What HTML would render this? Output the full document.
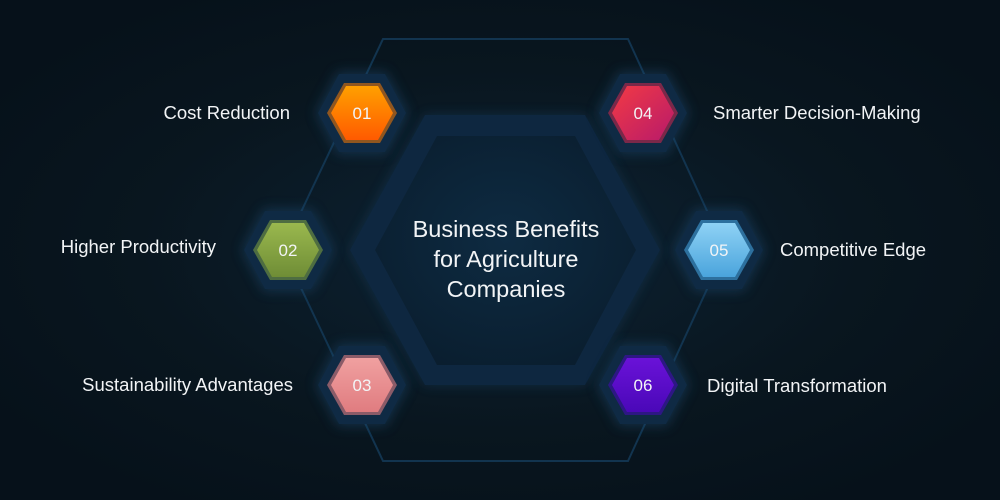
<!DOCTYPE html>
<html><head><style>
html,body{margin:0;padding:0;background:#07121a;}
svg{display:block}
text{font-family:"Liberation Sans",sans-serif;fill:#f2f4f6}
</style></head><body>
<svg width="1000" height="500" viewBox="0 0 1000 500" xmlns="http://www.w3.org/2000/svg">
<defs>
<radialGradient id="bg" cx="50%" cy="50%" r="60%">
<stop offset="0" stop-color="#0d2233"/><stop offset="0.6" stop-color="#09161f"/><stop offset="1" stop-color="#06111a"/>
</radialGradient>
<radialGradient id="cen" cx="50%" cy="45%" r="60%">
<stop offset="0" stop-color="#0e2b42"/><stop offset="1" stop-color="#0a1e2f"/>
</radialGradient>
<linearGradient id="g1" x1="0" y1="0" x2="0" y2="1"><stop offset="0" stop-color="#ffa000"/><stop offset="1" stop-color="#ff5a00"/></linearGradient>
<linearGradient id="g4" x1="0" y1="0" x2="1" y2="1"><stop offset="0" stop-color="#f23a44"/><stop offset="1" stop-color="#b81a6a"/></linearGradient>
<linearGradient id="g2" x1="0" y1="0" x2="0" y2="1"><stop offset="0" stop-color="#9ab84e"/><stop offset="1" stop-color="#6f8d36"/></linearGradient>
<linearGradient id="g5" x1="0" y1="0" x2="0" y2="1"><stop offset="0" stop-color="#8fd2f5"/><stop offset="1" stop-color="#4aa4dc"/></linearGradient>
<linearGradient id="g3" x1="0" y1="0" x2="0" y2="1"><stop offset="0" stop-color="#f0a0a0"/><stop offset="1" stop-color="#e07c80"/></linearGradient>
<linearGradient id="g6" x1="0" y1="0" x2="0" y2="1"><stop offset="0" stop-color="#6a12d8"/><stop offset="1" stop-color="#4a08b8"/></linearGradient>
<filter id="bl" x="-50%" y="-50%" width="200%" height="200%"><feGaussianBlur stdDeviation="6"/></filter>
</defs>
<rect width="1000" height="500" fill="url(#bg)"/>
<polygon points="383,39 628,39 725,250 628,461 383,461 283,250" fill="none" stroke="#12344f" stroke-width="2"/>
<polygon points="350,250 425,115 585,115 660,250 585,385 425,385" fill="#1a4a6e" opacity="0.4" filter="url(#bl)"/>
<polygon points="350,250 425,115 585,115 660,250 585,385 425,385" fill="#0e2740"/>
<polygon points="375,250 437,136 575,136 636,250 575,365 437,365" fill="url(#cen)"/>
<text x="506" y="237" font-size="23.5" text-anchor="middle">Business Benefits</text>
<text x="506" y="267" font-size="23.5" text-anchor="middle">for Agriculture</text>
<text x="506" y="297" font-size="23.5" text-anchor="middle">Companies</text>
<g transform="translate(362,113)">
<polygon points="-46,0 -24,-41 24,-41 46,0 24,41 -24,41" fill="#1b4c72" opacity="0.5" filter="url(#bl)"/>
<polygon points="-44,0 -23,-39 23,-39 44,0 23,39 -23,39" fill="#0f2a44"/>
<polygon points="-35,0 -18,-30 18,-30 35,0 18,30 -18,30" fill="#c76a10" opacity="0.7"/>
<polygon points="-31,0 -16,-27 16,-27 31,0 16,27 -16,27" fill="url(#g1)"/>
<text y="6" font-size="17" text-anchor="middle">01</text></g>
<g transform="translate(643,113)">
<polygon points="-46,0 -24,-41 24,-41 46,0 24,41 -24,41" fill="#1b4c72" opacity="0.5" filter="url(#bl)"/>
<polygon points="-44,0 -23,-39 23,-39 44,0 23,39 -23,39" fill="#0f2a44"/>
<polygon points="-35,0 -18,-30 18,-30 35,0 18,30 -18,30" fill="#a8284c" opacity="0.7"/>
<polygon points="-31,0 -16,-27 16,-27 31,0 16,27 -16,27" fill="url(#g4)"/>
<text y="6" font-size="17" text-anchor="middle">04</text></g>
<g transform="translate(288,250)">
<polygon points="-46,0 -24,-41 24,-41 46,0 24,41 -24,41" fill="#1b4c72" opacity="0.5" filter="url(#bl)"/>
<polygon points="-44,0 -23,-39 23,-39 44,0 23,39 -23,39" fill="#0f2a44"/>
<polygon points="-35,0 -18,-30 18,-30 35,0 18,30 -18,30" fill="#6a8a40" opacity="0.7"/>
<polygon points="-31,0 -16,-27 16,-27 31,0 16,27 -16,27" fill="url(#g2)"/>
<text y="6" font-size="17" text-anchor="middle">02</text></g>
<g transform="translate(719,250)">
<polygon points="-46,0 -24,-41 24,-41 46,0 24,41 -24,41" fill="#1b4c72" opacity="0.5" filter="url(#bl)"/>
<polygon points="-44,0 -23,-39 23,-39 44,0 23,39 -23,39" fill="#0f2a44"/>
<polygon points="-35,0 -18,-30 18,-30 35,0 18,30 -18,30" fill="#3a8ec4" opacity="0.7"/>
<polygon points="-31,0 -16,-27 16,-27 31,0 16,27 -16,27" fill="url(#g5)"/>
<text y="6" font-size="17" text-anchor="middle">05</text></g>
<g transform="translate(362,385)">
<polygon points="-46,0 -24,-41 24,-41 46,0 24,41 -24,41" fill="#1b4c72" opacity="0.5" filter="url(#bl)"/>
<polygon points="-44,0 -23,-39 23,-39 44,0 23,39 -23,39" fill="#0f2a44"/>
<polygon points="-35,0 -18,-30 18,-30 35,0 18,30 -18,30" fill="#c07078" opacity="0.7"/>
<polygon points="-31,0 -16,-27 16,-27 31,0 16,27 -16,27" fill="url(#g3)"/>
<text y="6" font-size="17" text-anchor="middle">03</text></g>
<g transform="translate(643,385)">
<polygon points="-46,0 -24,-41 24,-41 46,0 24,41 -24,41" fill="#1b4c72" opacity="0.5" filter="url(#bl)"/>
<polygon points="-44,0 -23,-39 23,-39 44,0 23,39 -23,39" fill="#0f2a44"/>
<polygon points="-35,0 -18,-30 18,-30 35,0 18,30 -18,30" fill="#3a10a0" opacity="0.7"/>
<polygon points="-31,0 -16,-27 16,-27 31,0 16,27 -16,27" fill="url(#g6)"/>
<text y="6" font-size="17" text-anchor="middle">06</text></g>
<text x="290" y="119" font-size="18.5" text-anchor="end">Cost Reduction</text>
<text x="216" y="253" font-size="18.5" text-anchor="end">Higher Productivity</text>
<text x="293" y="391" font-size="18.5" text-anchor="end">Sustainability Advantages</text>
<text x="713" y="119" font-size="18.5">Smarter Decision-Making</text>
<text x="780" y="256" font-size="18.5">Competitive Edge</text>
<text x="707" y="392" font-size="18.5">Digital Transformation</text>
</svg>
</body></html>
